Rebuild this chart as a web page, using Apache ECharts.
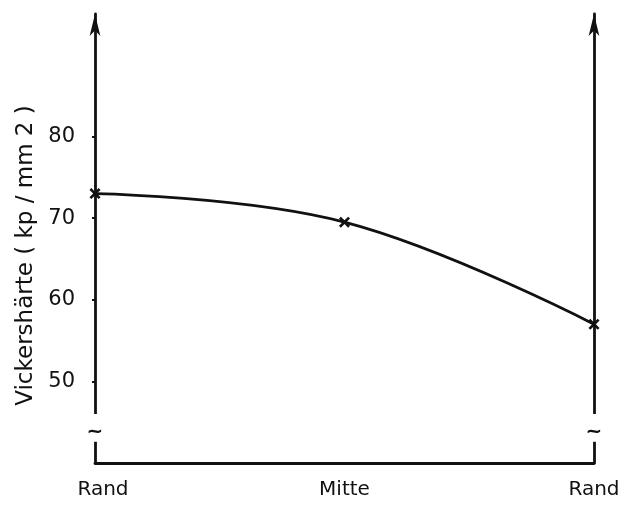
<!DOCTYPE html>
<html><head><meta charset="utf-8">
<script src="https://cdn.jsdelivr.net/npm/echarts@6/dist/echarts.min.js"></script>
<style>html,body{margin:0;padding:0;background:#fff}#c{width:624px;height:508px}</style>
</head><body><div id="c"></div>
<script>
const categories = ['Rand', 'Mitte', 'Rand'];
const hardness = [73, 69.5, 57];
const yTicks = [50, 60, 70, 80];
const yName = 'Vickershärte ( kp / mm 2 )';

const chart = echarts.init(document.getElementById('c'), null, {renderer: 'canvas'});
const FONT = 'DejaVu Sans';
const black = '#111';
const xMark = 'path://M4,0H6V4H10V6H6V10H4V6H0V4H4Z';

chart.setOption({
  animation: false,
  backgroundColor: '#fff',
  grid: {left: 95, right: 30, top: 14, bottom: 45},
  xAxis: {
    type: 'category', data: categories.map((c, i) => i === 0 ? {value: c, textStyle: {padding: [0, 0, 0, 16]}} : c),
    boundaryGap: false,
    axisLine: {lineStyle: {color: black, width: 2.8}},
    axisTick: {show: false},
    axisLabel: {color: black, fontFamily: FONT, fontSize: 20, margin: 17}
  },
  yAxis: [{
    type: 'value', min: 40, max: 95, interval: 10,
    name: yName, nameLocation: 'middle', nameGap: 57,
    nameTextStyle: {color: black, fontFamily: FONT, fontSize: 23, padding: [0, 34, 0, 0]},
    axisLine: {show: true, symbol: ['none', 'arrow'], symbolSize: [8, 22], lineStyle: {color: black, width: 2.8}},
    axisTick: {show: true, length: 3, lineStyle: {color: black, width: 2}, customValues: yTicks},
    axisLabel: {color: black, fontFamily: FONT, fontSize: 21, margin: 20, customValues: yTicks},
    splitLine: {show: false}
  }, {
    type: 'value', min: 40, max: 95, position: 'right',
    axisLine: {show: true, symbol: ['none', 'arrow'], symbolSize: [8, 22], lineStyle: {color: black, width: 2.8}},
    axisTick: {show: false}, axisLabel: {show: false}, splitLine: {show: false}
  }],
  series: [{
    type: 'line', data: hardness, smooth: 0.4,
    lineStyle: {color: black, width: 2.8},
    symbol: xMark, symbolSize: 13, symbolRotate: 45,
    itemStyle: {color: black},
    z: 5
  }]
});

// axis-break marks on both vertical axes
const g = [];
[0, categories.length - 1].forEach(idx => {
  const top = chart.convertToPixel({gridIndex: 0}, [idx, 46]);
  const bot = chart.convertToPixel({gridIndex: 0}, [idx, 42.6]);
  const mid = chart.convertToPixel({gridIndex: 0}, [idx, 43.8]);
  g.push({type: 'rect', shape: {x: top[0] - 4, y: top[1], width: 8, height: bot[1] - top[1]}, style: {fill: '#fff'}, z: 100});
  g.push({type: 'text', x: mid[0], y: mid[1], style: {text: '~', font: 'bold 20px ' + FONT, fill: black, align: 'center', verticalAlign: 'middle'}, z: 101});
});
chart.setOption({graphic: g});
</script></body></html>
